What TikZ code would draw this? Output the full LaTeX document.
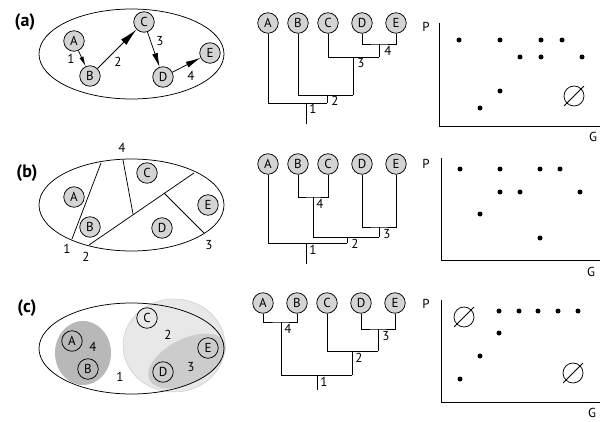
\documentclass[tikz,border=0pt]{standalone}
\usepackage{fontspec}
\setmainfont{PT Sans}
\usetikzlibrary{arrows.meta,calc}
\definecolor{leafgray}{RGB}{212,212,212}
\definecolor{cladelight}{RGB}{232,232,232}
\definecolor{clademid}{RGB}{204,204,204}
\definecolor{cladedark}{RGB}{184,184,184}
\tikzset{
  leaf/.style={circle, draw, fill=leafgray, minimum size=20.5pt, inner sep=0pt, line width=0.75pt, font=\fontsize{13}{13}\selectfont},
  openleaf/.style={leaf, fill=none},
  lab/.style={inner sep=0pt, font=\fontsize{13}{13}\selectfont},
  panel/.style={inner sep=0pt, font=\fontsize{18}{18}\selectfont\bfseries},
  pt/.style={circle, fill=black, minimum size=5pt, inner sep=0pt},
  emptyset/.style={circle, draw, fill=white, minimum size=20pt, inner sep=0pt, line width=0.75pt},
  wire/.style={line width=0.75pt},
  tip/.style={-{Latex[length=#1, width=0.42*#1]}},
  faint/.style={draw=black!20, line width=0.5pt},
}
\begin{document}
\begin{tikzpicture}[x=1pt, y=-1pt, line width=0.75pt]
\useasboundingbox (0,0) rectangle (601,422);

% ---------------- panel (a) ----------------
\node[panel] (pa) at (25,22) {(a)};
\draw[wire] (131.5,54) ellipse [x radius=92.5, y radius=45];
\node[leaf] (a1A) at (74,41) {A};
\node[leaf] (a1B) at (90,76) {B};
\node[leaf] (a1C) at (144,22) {C};
\node[leaf] (a1D) at (163,77) {D};
\node[leaf] (a1E) at (210,53) {E};
\draw[wire, tip=10pt] (a1A) -- (a1B);
\draw[wire, tip=18pt] (a1B) -- (a1C);
\draw[wire, tip=14pt] (a1C) -- (a1D);
\draw[wire, tip=15pt] (a1D) -- (a1E);
\node[lab] (a1l1) at (71,59) {1};
\node[lab] (a1l2) at (118,62) {2};
\node[lab] (a1l3) at (160,41) {3};
\node[lab] (a1l4) at (191,76) {4};

% tree (a)
\node[leaf] (a2A) at (268,23) {A};
\node[leaf] (a2B) at (298,23) {B};
\node[leaf] (a2C) at (328,23) {C};
\node[leaf] (a2D) at (362,23) {D};
\node[leaf] (a2E) at (396,23) {E};
\coordinate (a2j4) at (379,44);
\coordinate (a2k4) at (379,57);
\coordinate (a2j3) at (353,57);
\coordinate (a2k3) at (353,95);
\coordinate (a2j2) at (327,95);
\coordinate (a2k2) at (327,103);
\coordinate (a2j1) at (306,103);
\coordinate (a2k1) at (306,124);
\draw[wire] (a2D) |- (a2j4) -| (a2E);
\draw[wire] (a2j4) -- (a2k4);
\draw[wire] (a2C) |- (a2k4);
\draw[wire] (a2j3) -- (a2k3);
\draw[wire] (a2B) |- (a2k3);
\draw[wire] (a2j2) -- (a2k2);
\draw[wire] (a2A) |- (a2k2);
\draw[wire] (a2j1) -- (a2k1);
\node[lab, anchor=north west] (a2l4) at (384,46) {4};
\node[lab, anchor=north west] (a2l3) at (357,58) {3};
\node[lab, anchor=north west] (a2l2) at (331,96) {2};
\node[lab, anchor=north west] (a2l1) at (309,104) {1};

% plot (a)
\coordinate (a3o) at (439,126);
\draw[wire] (439,23) -- (a3o) -- (600,126);
\node[lab] (a3P) at (426,27) {P};
\node[lab] (a3G) at (593,137) {G};
\foreach \px/\py [count=\i] in {459/40,500/40,541/40,562/40,520/57,541/57,582/57,500/91,480/108}
  \node[pt] (a3p\i) at (\px,\py) {};
\node[emptyset] (a3e) at (574,96) {};
\draw[wire] ($(a3e.225)!-0.18!(a3e.45)$) -- ($(a3e.45)!-0.18!(a3e.225)$);

% ---------------- panel (b) ----------------
\node[panel] (pb) at (27,173) {(b)};
\draw[wire] (131.5,205) ellipse [x radius=92.5, y radius=46];
\coordinate (b1s1) at (72,239);
\coordinate (b1e1) at (101,163);
\coordinate (b1s2) at (89,245);
\coordinate (b1e2) at (194,173);
\coordinate (b1s4) at (123,160);
\coordinate (b1e4) at (133,214);
\coordinate (b1s3) at (164,193);
\coordinate (b1e3) at (204,233);
\draw[wire] (b1s1) -- (b1e1);
\draw[wire] (b1s2) -- (b1e2);
\draw[wire] (b1s4) -- (b1e4);
\draw[wire] (b1s3) -- (b1e3);
\node[leaf] (b1A) at (74,197) {A};
\node[leaf] (b1B) at (90,227) {B};
\node[leaf] (b1C) at (147,173) {C};
\node[leaf] (b1D) at (162,228) {D};
\node[leaf] (b1E) at (208,205) {E};
\node[lab] (b1l4) at (122,148) {4};
\node[lab] (b1l1) at (67,249) {1};
\node[lab] (b1l2) at (86,257) {2};
\node[lab] (b1l3) at (209,245) {3};

% tree (b)
\node[leaf] (b2A) at (268,164) {A};
\node[leaf] (b2B) at (298,164) {B};
\node[leaf] (b2C) at (328,164) {C};
\node[leaf] (b2D) at (362,164) {D};
\node[leaf] (b2E) at (396,164) {E};
\coordinate (b2j4) at (313,197);
\coordinate (b2k4) at (313,237);
\coordinate (b2j3) at (379,227);
\coordinate (b2k3) at (379,237);
\coordinate (b2j2) at (347,237);
\coordinate (b2k2) at (347,243);
\coordinate (b2j1) at (306,243);
\coordinate (b2k1) at (306,264);
\draw[wire] (b2B) |- (b2j4) -| (b2C);
\draw[wire] (b2j4) -- (b2k4) -- (b2k3);
\draw[wire] (b2D) |- (b2j3) -| (b2E);
\draw[wire] (b2j3) -- (b2k3);
\draw[wire] (b2j2) -- (b2k2);
\draw[wire] (b2A) |- (b2k2);
\draw[wire] (b2j1) -- (b2k1);
\node[lab, anchor=north west] (b2l4) at (316,199) {4};
\node[lab, anchor=north west] (b2l3) at (383,229) {3};
\node[lab, anchor=north west] (b2l2) at (351,239) {2};
\node[lab, anchor=north west] (b2l1) at (309,245) {1};

% plot (b)
\coordinate (b3o) at (441,260);
\draw[wire] (441,158) -- (b3o) -- (600,260);
\node[lab] (b3P) at (426,164) {P};
\node[lab] (b3G) at (591,272) {G};
\foreach \px/\py [count=\i] in {460/169,500/169,540/169,560/169,500/192,520/192,580/192,480/214,540/238}
  \node[pt] (b3p\i) at (\px,\py) {};

% ---------------- panel (c) ----------------
\node[panel] (pc) at (27,308) {(c)};
\fill[cladelight, faint] (174,345.5) ellipse [x radius=51, y radius=46.5];
\fill[clademid, rotate around={27:(187,361)}] (187,361) ellipse [x radius=42, y radius=22];
\draw[wire] (131.5,348.5) ellipse [x radius=92.5, y radius=45.5];
\fill[cladedark] (83,353) ellipse [x radius=28, y radius=32];
\node[openleaf] (c1A) at (72,341) {A};
\node[openleaf] (c1B) at (88,369) {B};
\node[openleaf] (c1C) at (147,318) {C};
\node[openleaf] (c1D) at (163,372) {D};
\node[openleaf] (c1E) at (208,348) {E};
\node[lab] (c1l4) at (93,347) {4};
\node[lab] (c1l2) at (168,335) {2};
\node[lab] (c1l3) at (191,367) {3};
\node[lab] (c1l1) at (120,377) {1};

% tree (c)
\node[leaf] (c2A) at (263,303) {A};
\node[leaf] (c2B) at (297,303) {B};
\node[leaf] (c2C) at (327,303) {C};
\node[leaf] (c2D) at (361,303) {D};
\node[leaf] (c2E) at (395,303) {E};
\coordinate (c2j4) at (281,322);
\coordinate (c2k4) at (281,375);
\coordinate (c2j3) at (378,329);
\coordinate (c2k3) at (378,351);
\coordinate (c2j2) at (352,351);
\coordinate (c2k2) at (352,375);
\coordinate (c2j1) at (317,375);
\coordinate (c2k1) at (317,390);
\draw[wire] (c2A) |- (c2j4) -| (c2B);
\draw[wire] (c2j4) -- (c2k4) -- (c2k2);
\draw[wire] (c2D) |- (c2j3) -| (c2E);
\draw[wire] (c2j3) -- (c2k3);
\draw[wire] (c2C) |- (c2k3);
\draw[wire] (c2j2) -- (c2k2);
\draw[wire] (c2j1) -- (c2k1);
\node[lab, anchor=north west] (c2l4) at (284,324) {4};
\node[lab, anchor=north west] (c2l3) at (382,331) {3};
\node[lab, anchor=north west] (c2l2) at (355,353) {2};
\node[lab, anchor=north west] (c2l1) at (320,377) {1};

% plot (c)
\coordinate (c3o) at (441,402);
\draw[wire] (441,300) -- (c3o) -- (600,402);
\node[lab] (c3P) at (426,304) {P};
\node[lab] (c3G) at (592,413) {G};
\foreach \px/\py [count=\i] in {499/311,519/311,538/311,558/311,578/311,499/333,480/356,460/379}
  \node[pt] (c3p\i) at (\px,\py) {};
\node[emptyset] (c3e1) at (464,317) {};
\draw[wire] ($(c3e1.225)!-0.18!(c3e1.45)$) -- ($(c3e1.45)!-0.18!(c3e1.225)$);
\node[emptyset] (c3e2) at (573,373) {};
\draw[wire] ($(c3e2.225)!-0.18!(c3e2.45)$) -- ($(c3e2.45)!-0.18!(c3e2.225)$);
\end{tikzpicture}
\end{document}
